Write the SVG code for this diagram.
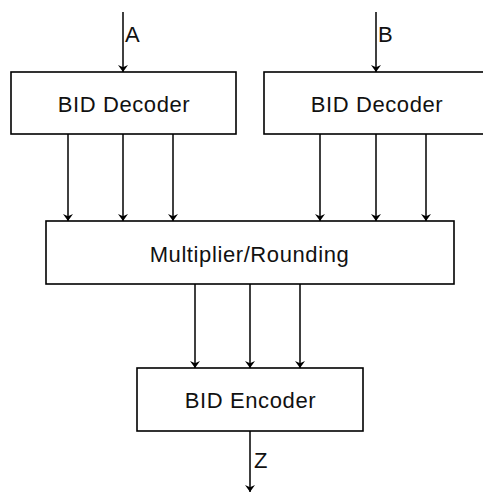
<svg xmlns="http://www.w3.org/2000/svg" width="483" height="492" viewBox="0 0 483 492">
  <style>
    .box { fill: #ffffff; stroke: #000000; stroke-width: 1.6; }
    .wire { fill: none; stroke: #000000; stroke-width: 1.5; marker-end: url(#head); }
    .lbl { font-family: "Liberation Sans", Arial, sans-serif; font-size: 22px; letter-spacing: 0.6px; fill: #111111; }
    .mid { text-anchor: middle; }
  </style>
  <defs>
    <marker id="head" viewBox="0 0 8 10" refX="8" refY="5" markerWidth="7" markerHeight="10" markerUnits="userSpaceOnUse" orient="auto" preserveAspectRatio="none">
      <path d="M0,0 L8,5 L0,10 L2.5,5 Z" fill="#000000"/>
    </marker>
  </defs>

  <rect width="483" height="492" fill="#ffffff"/>

  <!-- connectors -->
  <g id="connectors">
    <line class="wire" x1="123" y1="12" x2="123" y2="72"/>
    <line class="wire" x1="376" y1="12" x2="376" y2="72"/>

    <line class="wire" x1="68" y1="134" x2="68" y2="221"/>
    <line class="wire" x1="123" y1="134" x2="123" y2="221"/>
    <line class="wire" x1="173" y1="134" x2="173" y2="221"/>
    <line class="wire" x1="320" y1="134" x2="320" y2="221"/>
    <line class="wire" x1="376" y1="134" x2="376" y2="221"/>
    <line class="wire" x1="426" y1="134" x2="426" y2="221"/>

    <line class="wire" x1="195" y1="284" x2="195" y2="368"/>
    <line class="wire" x1="250" y1="284" x2="250" y2="368"/>
    <line class="wire" x1="300" y1="284" x2="300" y2="368"/>

    <line class="wire" x1="250" y1="431" x2="250" y2="492"/>

    <text class="lbl" x="125" y="42">A</text>
    <text class="lbl" x="378" y="42">B</text>
    <text class="lbl" x="254" y="468">Z</text>
  </g>

  <g id="decoder-a">
    <rect class="box" x="11" y="72" width="225" height="62"/>
    <text class="lbl mid" x="124" y="112">BID Decoder</text>
  </g>

  <g id="decoder-b">
    <rect class="box" x="264" y="72" width="225" height="62"/>
    <text class="lbl mid" x="377" y="112">BID Decoder</text>
  </g>

  <g id="multiplier">
    <rect class="box" x="46" y="221" width="408" height="63"/>
    <text class="lbl mid" x="249.5" y="262">Multiplier/Rounding</text>
  </g>

  <g id="encoder">
    <rect class="box" x="137" y="368" width="226" height="63"/>
    <text class="lbl mid" x="250.5" y="408">BID Encoder</text>
  </g>
</svg>
